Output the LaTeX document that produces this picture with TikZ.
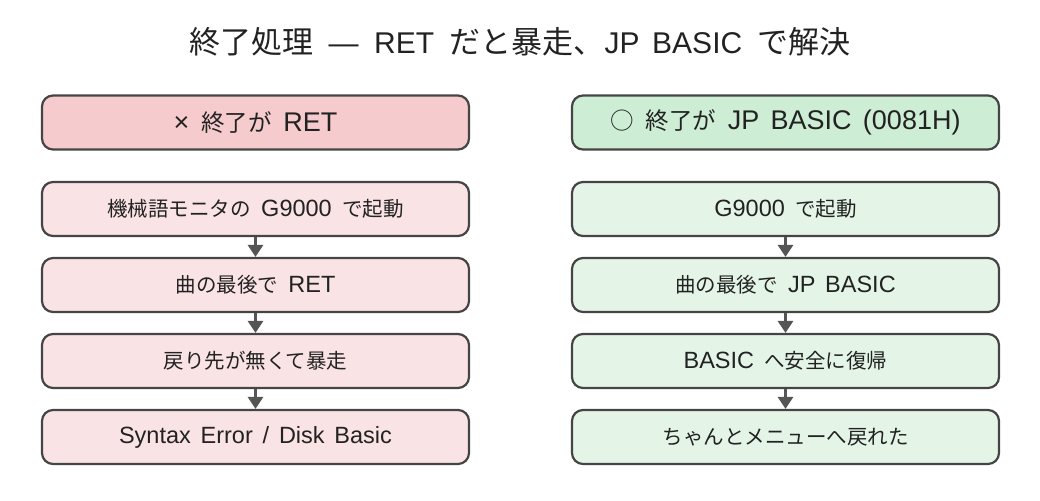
\documentclass[tikz,border=0pt]{standalone}
\usepackage{fontspec}
\setmainfont{Noto Sans CJK JP}
\newfontfamily\lat{Liberation Sans}[WordSpace=1.5]
\newcommand\LL[1]{{\lat\fontsize{\latsz}{\latsz}\selectfont #1}}
\newcommand\gp{\hspace{0.5em}}
\def\latsz{24}
\usetikzlibrary{arrows.meta}
\definecolor{linec}{HTML}{454545}
\definecolor{arrc}{HTML}{555555}
\definecolor{redh}{HTML}{F5CBCD}
\definecolor{redb}{HTML}{FAE3E4}
\definecolor{grnh}{HTML}{CDEDD5}
\definecolor{grnb}{HTML}{E4F5E8}
\definecolor{txt}{HTML}{222222}
\tikzset{
  box/.style={draw=linec, line width=2.2pt, rounded corners=11pt, minimum width=427pt, minimum height=54pt, inner sep=0pt, text=txt},
  hdr/.style={box, font={\fontsize{23.5pt}{28pt}\selectfont\def\latsz{27}}},
  stp/.style={box, font={\fontsize{20.5pt}{24pt}\selectfont\def\latsz{23.5}}},
  ttl/.style={font={\fontsize{31pt}{34pt}\selectfont\def\latsz{30}}, text=txt},
  arr/.style={draw=arrc, line width=3pt, -{Triangle[length=12pt,width=15pt]}, shorten <=0pt, shorten >=0pt}
}
\begin{document}
\begin{tikzpicture}[x=1pt,y=-1pt]
\useasboundingbox (0,0) rectangle (1040,500);
\node[ttl] (title) at (520,42) {終了処理\gp\LL{—}\gp\LL{RET}\gp だと暴走、\LL{JP BASIC}\gp で解決};
% left
\node[hdr, fill=redh] (lh) at (255.5,122.5) {\LL{×}\gp 終了が\gp\LL{RET}};
\node[stp, fill=redb] (l1) at (255.5,209) {機械語モニタの\gp\LL{G9000}\gp で起動};
\node[stp, fill=redb] (l2) at (255.5,285) {曲の最後で\gp\LL{RET}};
\node[stp, fill=redb] (l3) at (255.5,361) {戻り先が無くて暴走};
\node[stp, fill=redb] (l4) at (255.5,437) {\LL{Syntax Error / Disk Basic}};
% right
\node[hdr, fill=grnh] (rh) at (785.5,122.5) {○\gp 終了が\gp\LL{JP BASIC (0081H)}};
\node[stp, fill=grnb] (r1) at (785.5,209) {\LL{G9000}\gp で起動};
\node[stp, fill=grnb] (r2) at (785.5,285) {曲の最後で\gp\LL{JP BASIC}};
\node[stp, fill=grnb] (r3) at (785.5,361) {\LL{BASIC}\gp へ安全に復帰};
\node[stp, fill=grnb] (r4) at (785.5,437) {ちゃんとメニューへ戻れた};
\draw[arr] (l1) -- (l2);
\draw[arr] (l2) -- (l3);
\draw[arr] (l3) -- (l4);
\draw[arr] (r1) -- (r2);
\draw[arr] (r2) -- (r3);
\draw[arr] (r3) -- (r4);
\end{tikzpicture}
\end{document}
